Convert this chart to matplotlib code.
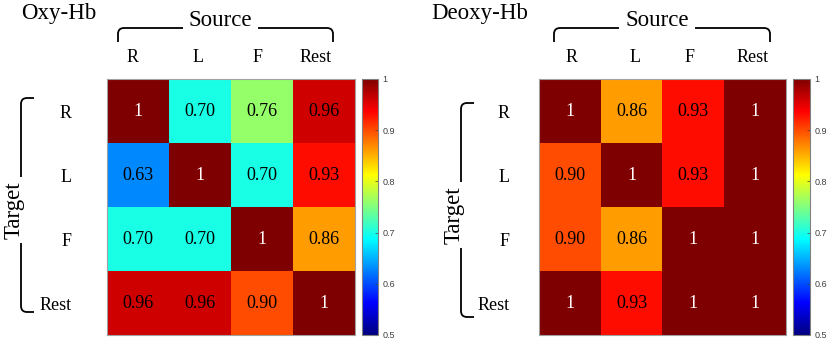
import numpy as np
import matplotlib.pyplot as plt
from matplotlib.path import Path
from matplotlib.patches import PathPatch
from matplotlib.colors import LinearSegmentedColormap

# data
labels = ['R', 'L', 'F', 'Rest']
oxy = [[1, 0.70, 0.76, 0.96],
       [0.63, 1, 0.70, 0.93],
       [0.70, 0.70, 1, 0.86],
       [0.96, 0.96, 0.90, 1]]
deoxy = [[1, 0.86, 0.93, 1],
         [0.90, 1, 0.93, 1],
         [0.90, 0.86, 1, 1],
         [1, 0.93, 1, 1]]
cbar_ticks = [0.5, 0.6, 0.7, 0.8, 0.9, 1.0]
cbar_ticklabels = ['0.5', '0.6', '0.7', '0.8', '0.9', '1']

W, H = 829, 342
serif = 'Liberation Serif'

# MATLAB style jet
mjet = LinearSegmentedColormap('mjet', {
    'red':   [(0, 0, 0), (0.375, 0, 0), (0.625, 1, 1), (0.875, 1, 1), (1, 0.5, 0.5)],
    'green': [(0, 0, 0), (0.125, 0, 0), (0.375, 1, 1), (0.625, 1, 1), (0.875, 0, 0), (1, 0, 0)],
    'blue':  [(0, 0.5, 0.5), (0.125, 1, 1), (0.375, 1, 1), (0.625, 0, 0), (1, 0, 0)],
}, N=256)

fig = plt.figure(figsize=(W / 100, H / 100), dpi=100, facecolor='white')


def px(x0, y0, w, h):
    # pixel box (top-left origin) -> figure fraction rect
    return [x0 / W, 1 - (y0 + h) / H, w / W, h / H]


def ftxt(x, y, s, **kw):
    return fig.text(x / W, 1 - y / H, s, family=serif, **kw)


def bracket(pts, codes):
    verts = [(x / W, 1 - y / H) for x, y in pts]
    fig.add_artist(PathPatch(Path(verts, codes), transform=fig.transFigure,
                             fill=False, lw=1.3, color='black'))


M, L, C = Path.MOVETO, Path.LINETO, Path.CURVE3


def panel(vals, ax_box, cb_box, title, title_x, src_x0, src_x1, gap0, gap1,
          tgt_x, tgt_y0, tgt_y1, tgt_gap0, tgt_gap1, row_right, col_x):
    ax = fig.add_axes(px(*ax_box))
    im = ax.imshow(np.array(vals), cmap=mjet, vmin=0.5, vmax=1, aspect='auto')
    for i in range(4):
        for j in range(4):
            v = vals[i][j]
            s = '1' if v == 1 else f'{v:.2f}'
            ax.text(j, i, s, ha='center', va='center', family=serif,
                    fontsize=13, color='white' if v == 1 else 'black')
    ax.set_xticks([])
    ax.set_yticks([])
    for sp in ax.spines.values():
        sp.set_color('#a0a0a0')
        sp.set_linewidth(0.8)

    cax = fig.add_axes(px(*cb_box))
    cb = fig.colorbar(im, cax=cax, ticks=cbar_ticks)
    cb.ax.set_yticklabels(cbar_ticklabels)
    cb.ax.tick_params(labelsize=6.5, direction='in', length=2, width=0.5,
                      colors='#404040', pad=3)
    cb.outline.set_edgecolor('#808080')
    cb.outline.set_linewidth(0.8)
    for t in cb.ax.get_yticklabels():
        t.set_family('Liberation Sans')

    # titles
    ftxt(title_x, 14, title, fontsize=16.5, ha='left', va='center')
    ftxt((gap0 + gap1) / 2, 20, 'Source', fontsize=16.5, ha='center', va='center')
    # source bracket
    r = 6
    bracket([(src_x0, 42), (src_x0, 28 + r), (src_x0, 28), (src_x0 + r, 28), (gap0, 28)],
            [M, L, C, C, L])
    bracket([(gap1, 28), (src_x1 - r, 28), (src_x1, 28), (src_x1, 28 + r), (src_x1, 42)],
            [M, L, C, C, L])
    # column labels
    for lab, x in zip(labels, col_x):
        ftxt(x, 58, lab, fontsize=13, ha='center', va='center')
    # row labels
    y0 = ax_box[1]
    ch = ax_box[3] / 4
    for k, lab in enumerate(labels):
        ftxt(row_right, y0 + ch * (k + 0.5) + 2, lab, fontsize=13,
             ha='right', va='center')
    # target bracket
    hx = tgt_x + 13
    bracket([(hx, tgt_y0), (tgt_x + r, tgt_y0), (tgt_x, tgt_y0), (tgt_x, tgt_y0 + r),
             (tgt_x, tgt_gap0)], [M, L, C, C, L])
    bracket([(tgt_x, tgt_gap1), (tgt_x, tgt_y1 - r), (tgt_x, tgt_y1), (tgt_x + r, tgt_y1),
             (hx, tgt_y1)], [M, L, C, C, L])
    ftxt(tgt_x - 7, (tgt_gap0 + tgt_gap1) / 2, 'Target', fontsize=16.5,
         rotation=90, ha='center', va='center')


panel(oxy, (107, 79, 248, 256), (362, 79, 16, 256), 'Oxy-Hb', 21,
      118, 333, 183, 258, 21, 98, 312, 177, 243, 72, [133, 198, 258, 316])
panel(deoxy, (539, 79, 247, 256), (793, 79, 17, 256), 'Deoxy-Hb', 431,
      554, 770, 619, 695, 461, 103, 317, 182, 248, 510, [572, 635, 690, 753])

plt.savefig('out.png', dpi=100)
